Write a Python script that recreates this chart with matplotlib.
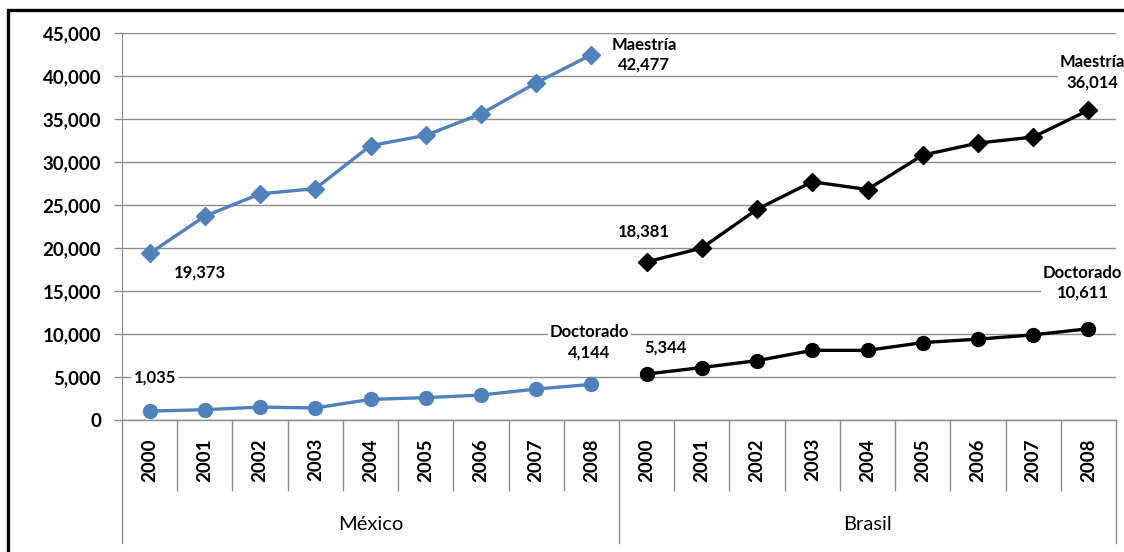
import matplotlib
matplotlib.use("Agg")
import matplotlib.pyplot as plt
from matplotlib.patches import Rectangle
from matplotlib.ticker import FuncFormatter
import matplotlib.transforms as mtransforms

years = ["2000", "2001", "2002", "2003", "2004", "2005", "2006", "2007", "2008"]
countries = ["México", "Brasil"]

mex_maestria = [19373, 23700, 26300, 26900, 31900, 33100, 35600, 39200, 42477]
mex_doctorado = [1035, 1200, 1500, 1400, 2400, 2600, 2900, 3600, 4144]
bra_maestria = [18381, 20000, 24500, 27700, 26800, 30800, 32200, 32900, 36014]
bra_doctorado = [5344, 6100, 6900, 8100, 8100, 9000, 9400, 9900, 10611]

blue = "#4F81BD"
grid_c = "#8C8C8C"
plt.rcParams['font.family'] = ['Lato', 'DejaVu Sans']

fig = plt.figure(figsize=(11.24, 5.52), dpi=100)
W, H = 1124, 552
ax = fig.add_axes([122 / W, (H - 420) / H, (1116 - 122) / W, (420 - 33) / H])

n = len(years)
xm = list(range(n))
xb = list(range(n, 2 * n))

ax.plot(xm, mex_maestria, color=blue, lw=2.4, marker="D", ms=9.5, zorder=3)
ax.plot(xm, mex_doctorado, color=blue, lw=2.4, marker="o", ms=10, zorder=3)
ax.plot(xb, bra_maestria, color="black", lw=2.4, marker="D", ms=9.5, zorder=3)
ax.plot(xb, bra_doctorado, color="black", lw=2.4, marker="o", ms=10, zorder=3)

ax.set_xlim(-0.5, 2 * n - 0.5)
ax.set_ylim(0, 45000)
ax.set_yticks(range(0, 45001, 5000))
ax.yaxis.set_major_formatter(FuncFormatter(lambda v, p: f"{int(v):,}"))
ax.grid(axis="y", color=grid_c, lw=1, zorder=0)
ax.tick_params(axis="y", length=6, color=grid_c, width=1, pad=9, labelsize=13.5)
for lab in ax.get_yticklabels():
    lab.set_fontweight("bold")

for s in ["top", "right", "bottom"]:
    ax.spines[s].set_visible(False)
ax.spines["left"].set_color(grid_c)

ax.set_xticks(range(2 * n))
ax.set_xticklabels(years + years, rotation=90, fontsize=13.5, fontweight="bold")
ax.tick_params(axis="x", length=0, pad=13)

# category axis separators
trans = mtransforms.blended_transform_factory(ax.transData, ax.transAxes)
ax.plot([-0.5, 2 * n - 0.5], [0, 0], color=grid_c, lw=1, transform=trans, clip_on=False)
for k in range(2 * n + 1):
    x = k - 0.5
    y0 = -0.318 if k in (0, n, 2 * n) else -0.181
    ax.plot([x, x], [0, y0], color=grid_c, lw=1, transform=trans, clip_on=False)
for i, c in enumerate(countries):
    ax.text(i * n + (n - 1) / 2, -0.27, c, transform=trans, ha="center", va="center", fontsize=14.5)

# data labels
box = dict(fc="white", ec="none", pad=1.5)
def lab(x, y, txt, dx, dy):
    ax.annotate(txt, (x, y), xytext=(dx * 0.72, dy * 0.72), textcoords="offset points",
                ha="center", va="center", fontsize=12, fontweight="bold",
                linespacing=1.3, bbox=box, zorder=4, annotation_clip=False)

lab(xm[-1], mex_maestria[-1], "Maestría\n" + f"{mex_maestria[-1]:,}", 53, 0)
lab(xm[0], mex_maestria[0], f"{mex_maestria[0]:,}", 50, -19)
lab(xm[0], mex_doctorado[0], f"{mex_doctorado[0]:,}", 5, 34)
lab(xm[-1], mex_doctorado[-1], "Doctorado\n" + f"{mex_doctorado[-1]:,}", -2, 42)
lab(xb[0], bra_maestria[0], f"{bra_maestria[0]:,}", -3, 30)
lab(xb[0], bra_doctorado[0], f"{bra_doctorado[0]:,}", 19, 27)
lab(xb[-1], bra_maestria[-1], "Maestría\n" + f"{bra_maestria[-1]:,}", 4, 38)
lab(xb[-1], bra_doctorado[-1], "Doctorado\n" + f"{bra_doctorado[-1]:,}", -6, 46)

# outer frame
fig.patches.append(Rectangle((8 / W, -0.05), 1.1, (H - 10) / H + 0.05, transform=fig.transFigure,
                             fill=False, ec="black", lw=2.4, clip_on=False))

fig.savefig("out.png", dpi=100)
